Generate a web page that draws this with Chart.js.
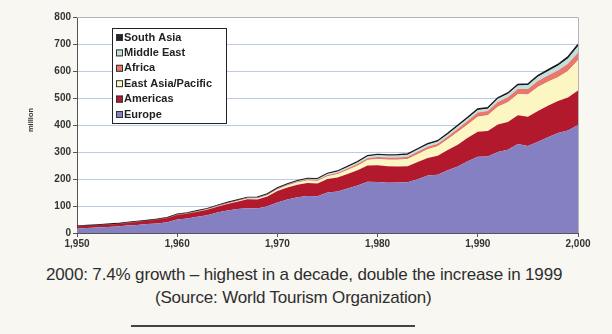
<!DOCTYPE html>
<html>
<head>
<meta charset="utf-8">
<script src="https://cdn.jsdelivr.net/npm/chart.js@4.4.0/dist/chart.umd.min.js"></script>
<style>
  html, body { margin: 0; padding: 0; background: #f8f7f2; }
  #wrap { position: relative; width: 612px; height: 334px; overflow: hidden; }
  #box { position: absolute; left: 0; top: 0; width: 612px; height: 250px; }
  .cap { position: absolute; font-family: "Liberation Sans", Arial, sans-serif; font-size: 17px;
         color: #2e2e2e; white-space: nowrap; }
  #rule { position: absolute; left: 131px; top: 325px; width: 284px; border-top: 2px solid #444; }
</style>
</head>
<body>
<div id="wrap">
  <div id="box"><canvas id="myChart" width="612" height="250"></canvas></div>
  <div class="cap" style="top:265px; left:46px; letter-spacing:-0.15px">2000: 7.4% growth – highest in a decade, double the increase in 1999</div>
  <div class="cap" style="top:288px; left:155px; letter-spacing:-0.2px">(Source: World Tourism Organization)</div>
  <div id="rule"></div>
</div>
<script>
const years = [];
for (let y = 1950; y <= 2000; y++) years.push(y);

// million arrivals
const europe = [16.8, 18.5, 20.2, 22.0, 24.1, 27.5, 30.0, 33.0, 35.5, 40.0,
  50.4, 54.0, 60.0, 66.0, 75.5, 83.7, 89.0, 92.0, 91.0, 99.0,
  113.0, 124.0, 132.0, 137.0, 136.0, 150.0, 154.0, 165.0, 176.0, 190.0,
  189.0, 186.0, 187.0, 188.0, 199.0, 213.0, 216.0, 232.0, 246.0, 266.0,
  282.0, 283.0, 300.0, 308.0, 330.0, 322.0, 338.0, 355.0, 370.0, 380.0, 400.0];
const americas = [7.5, 7.9, 8.3, 8.7, 9.2, 10.0, 11.0, 12.0, 13.2, 14.8,
  16.7, 17.5, 19.0, 20.5, 22.0, 23.9, 27.0, 33.0, 33.5, 36.0,
  42.3, 44.5, 46.5, 48.0, 47.5, 50.0, 51.5, 53.5, 56.5, 60.0,
  62.3, 61.0, 59.0, 59.5, 64.0, 65.1, 70.0, 75.0, 81.0, 86.5,
  92.8, 95.0, 102.0, 103.0, 106.0, 109.0, 114.0, 116.0, 119.0, 122.0, 128.0];
const eastAsia = [0.2, 0.25, 0.3, 0.35, 0.4, 0.45, 0.5, 0.55, 0.6, 0.65,
  0.7, 0.9, 1.1, 1.4, 1.7, 2.1, 2.5, 3.0, 3.6, 4.7,
  6.2, 7.0, 8.2, 9.5, 9.0, 10.2, 12.0, 14.5, 17.0, 20.5,
  23.0, 24.5, 25.5, 26.5, 29.0, 31.8, 35.5, 40.5, 47.0, 49.5,
  56.2, 58.0, 66.0, 73.0, 78.0, 82.4, 89.0, 89.5, 88.0, 98.0, 112.0];
const africa = [0.5, 0.55, 0.6, 0.6, 0.65, 0.65, 0.7, 0.7, 0.72, 0.73,
  0.75, 0.8, 0.9, 1.0, 1.2, 1.4, 1.6, 1.7, 1.9, 2.1,
  2.4, 2.8, 3.2, 3.5, 3.8, 4.7, 5.0, 5.6, 6.2, 6.8,
  7.2, 8.0, 7.9, 8.2, 8.7, 9.7, 9.4, 10.0, 12.5, 13.5,
  15.0, 16.0, 17.5, 18.5, 18.9, 20.0, 21.8, 23.0, 25.0, 26.5, 28.0];
const middleEast = [0.2, 0.22, 0.25, 0.27, 0.3, 0.32, 0.35, 0.4, 0.45, 0.5,
  0.6, 0.7, 0.8, 0.95, 1.1, 1.3, 1.4, 1.5, 1.6, 1.8,
  1.9, 2.2, 2.8, 3.0, 3.5, 4.5, 5.0, 5.8, 6.2, 6.5,
  7.1, 7.5, 7.8, 8.0, 8.2, 8.5, 7.8, 8.5, 9.0, 9.5,
  10.0, 8.5, 11.5, 12.5, 13.5, 14.0, 15.5, 15.5, 17.0, 20.0, 24.0];
const southAsia = [0.04, 0.05, 0.06, 0.07, 0.08, 0.09, 0.1, 0.12, 0.14, 0.16,
  0.2, 0.25, 0.3, 0.35, 0.4, 0.45, 0.5, 0.6, 0.7, 0.8,
  0.9, 1.0, 1.1, 1.2, 1.3, 1.5, 1.8, 2.0, 2.1, 2.2,
  2.2, 2.3, 2.3, 2.4, 2.4, 2.5, 2.7, 2.9, 3.0, 3.1,
  3.2, 3.0, 3.4, 3.6, 3.8, 4.2, 4.5, 4.8, 5.0, 5.5, 6.0];

const regionNames = ["Europe", "Americas", "East Asia/Pacific", "Africa", "Middle East", "South Asia"];
const regionValues = [europe, americas, eastAsia, africa, middleEast, southAsia];
const regionColors = ["#8480c2", "#b3192c", "#fcf7c2", "#e8786c", "#bfe0dc", "#2a2230"];

const datasets = regionNames.map((name, i) => ({
    label: name,
    data: years.map((y, j) => ({ x: y, y: regionValues[i][j] })),
    backgroundColor: regionColors[i],
    borderColor: i === 5 ? "#1c1820" : regionColors[i],
    borderWidth: i === 5 ? 1.5 : 0,
    fill: i === 0 ? "origin" : "-1",
    pointRadius: 0,
    tension: 0,
}));

const frame = {
    id: "frame",
    beforeDraw(chart) {
        const { ctx, chartArea: a } = chart;
        ctx.save();
        ctx.fillStyle = "#ffffff";
        ctx.fillRect(a.left, a.top, a.right - a.left, a.bottom - a.top);
        ctx.restore();
    },
    afterDraw(chart) {
        const { ctx, chartArea: a } = chart;
        ctx.save();
        ctx.strokeStyle = "#b4b4b4";
        ctx.lineWidth = 1;
        ctx.beginPath();
        ctx.moveTo(a.left, a.top + 0.5);
        ctx.lineTo(a.right + 0.5, a.top + 0.5);
        ctx.lineTo(a.right + 0.5, a.bottom);
        ctx.stroke();

        // y axis title
        ctx.fillStyle = "#333";
        ctx.font = "bold 7.5px 'Liberation Sans', Arial";
        ctx.translate(31, 120);
        ctx.rotate(-Math.PI / 2);
        ctx.textAlign = "center";
        ctx.textBaseline = "middle";
        ctx.fillText("million", 0, 0);
        ctx.restore();

        // legend box inside the plot
        const lx = 112, ly = 28, lw = 114, lh = 95;
        ctx.save();
        ctx.fillStyle = "#ffffff";
        ctx.fillRect(lx, ly, lw, lh);
        ctx.strokeStyle = "#222";
        ctx.lineWidth = 1;
        ctx.strokeRect(lx + 0.5, ly + 0.5, lw, lh);
        ctx.font = "bold 11px 'Liberation Sans', Arial";
        ctx.textBaseline = "middle";
        const order = chart.data.datasets.slice().reverse();
        order.forEach((ds, k) => {
            const cy = ly + 9 + k * 15.4;
            ctx.fillStyle = ds.backgroundColor;
            ctx.fillRect(lx + 4, cy - 3, 7, 7);
            ctx.strokeStyle = "#333";
            ctx.strokeRect(lx + 4.5, cy - 2.5, 6, 6);
            ctx.fillStyle = "#222";
            ctx.fillText(ds.label, lx + 12, cy + 0.5);
        });
        ctx.restore();
    },
};

new Chart(document.getElementById("myChart"), {
    type: "line",
    data: { datasets: datasets },
    plugins: [frame],
    options: {
        responsive: false,
        animation: false,
        layout: { padding: { top: 17, right: 34, left: 0, bottom: 0 } },
        plugins: { legend: { display: false }, tooltip: { enabled: false } },
        scales: {
            x: {
                type: "linear",
                min: 1950,
                max: 2000,
                ticks: { stepSize: 10, color: "#333", font: { size: 10, weight: "bold", family: "'Liberation Sans', Arial" }, padding: 1 },
                grid: { drawOnChartArea: false, drawTicks: true, tickLength: 4, tickColor: "#555" },
                border: { display: true, color: "#555", width: 1 },
                afterFit: (s) => { s.height = 17; },
            },
            y: {
                stacked: true,
                min: 0,
                max: 800,
                ticks: { stepSize: 100, color: "#333", font: { size: 10, weight: "bold", family: "'Liberation Sans', Arial" }, padding: 2 },
                grid: { color: "#bccbe0", tickColor: "#555", tickLength: 4 },
                border: { display: true, color: "#555", width: 1 },
                afterFit: (s) => { s.width = 77; },
            },
        },
    },
});
</script>
</body>
</html>
